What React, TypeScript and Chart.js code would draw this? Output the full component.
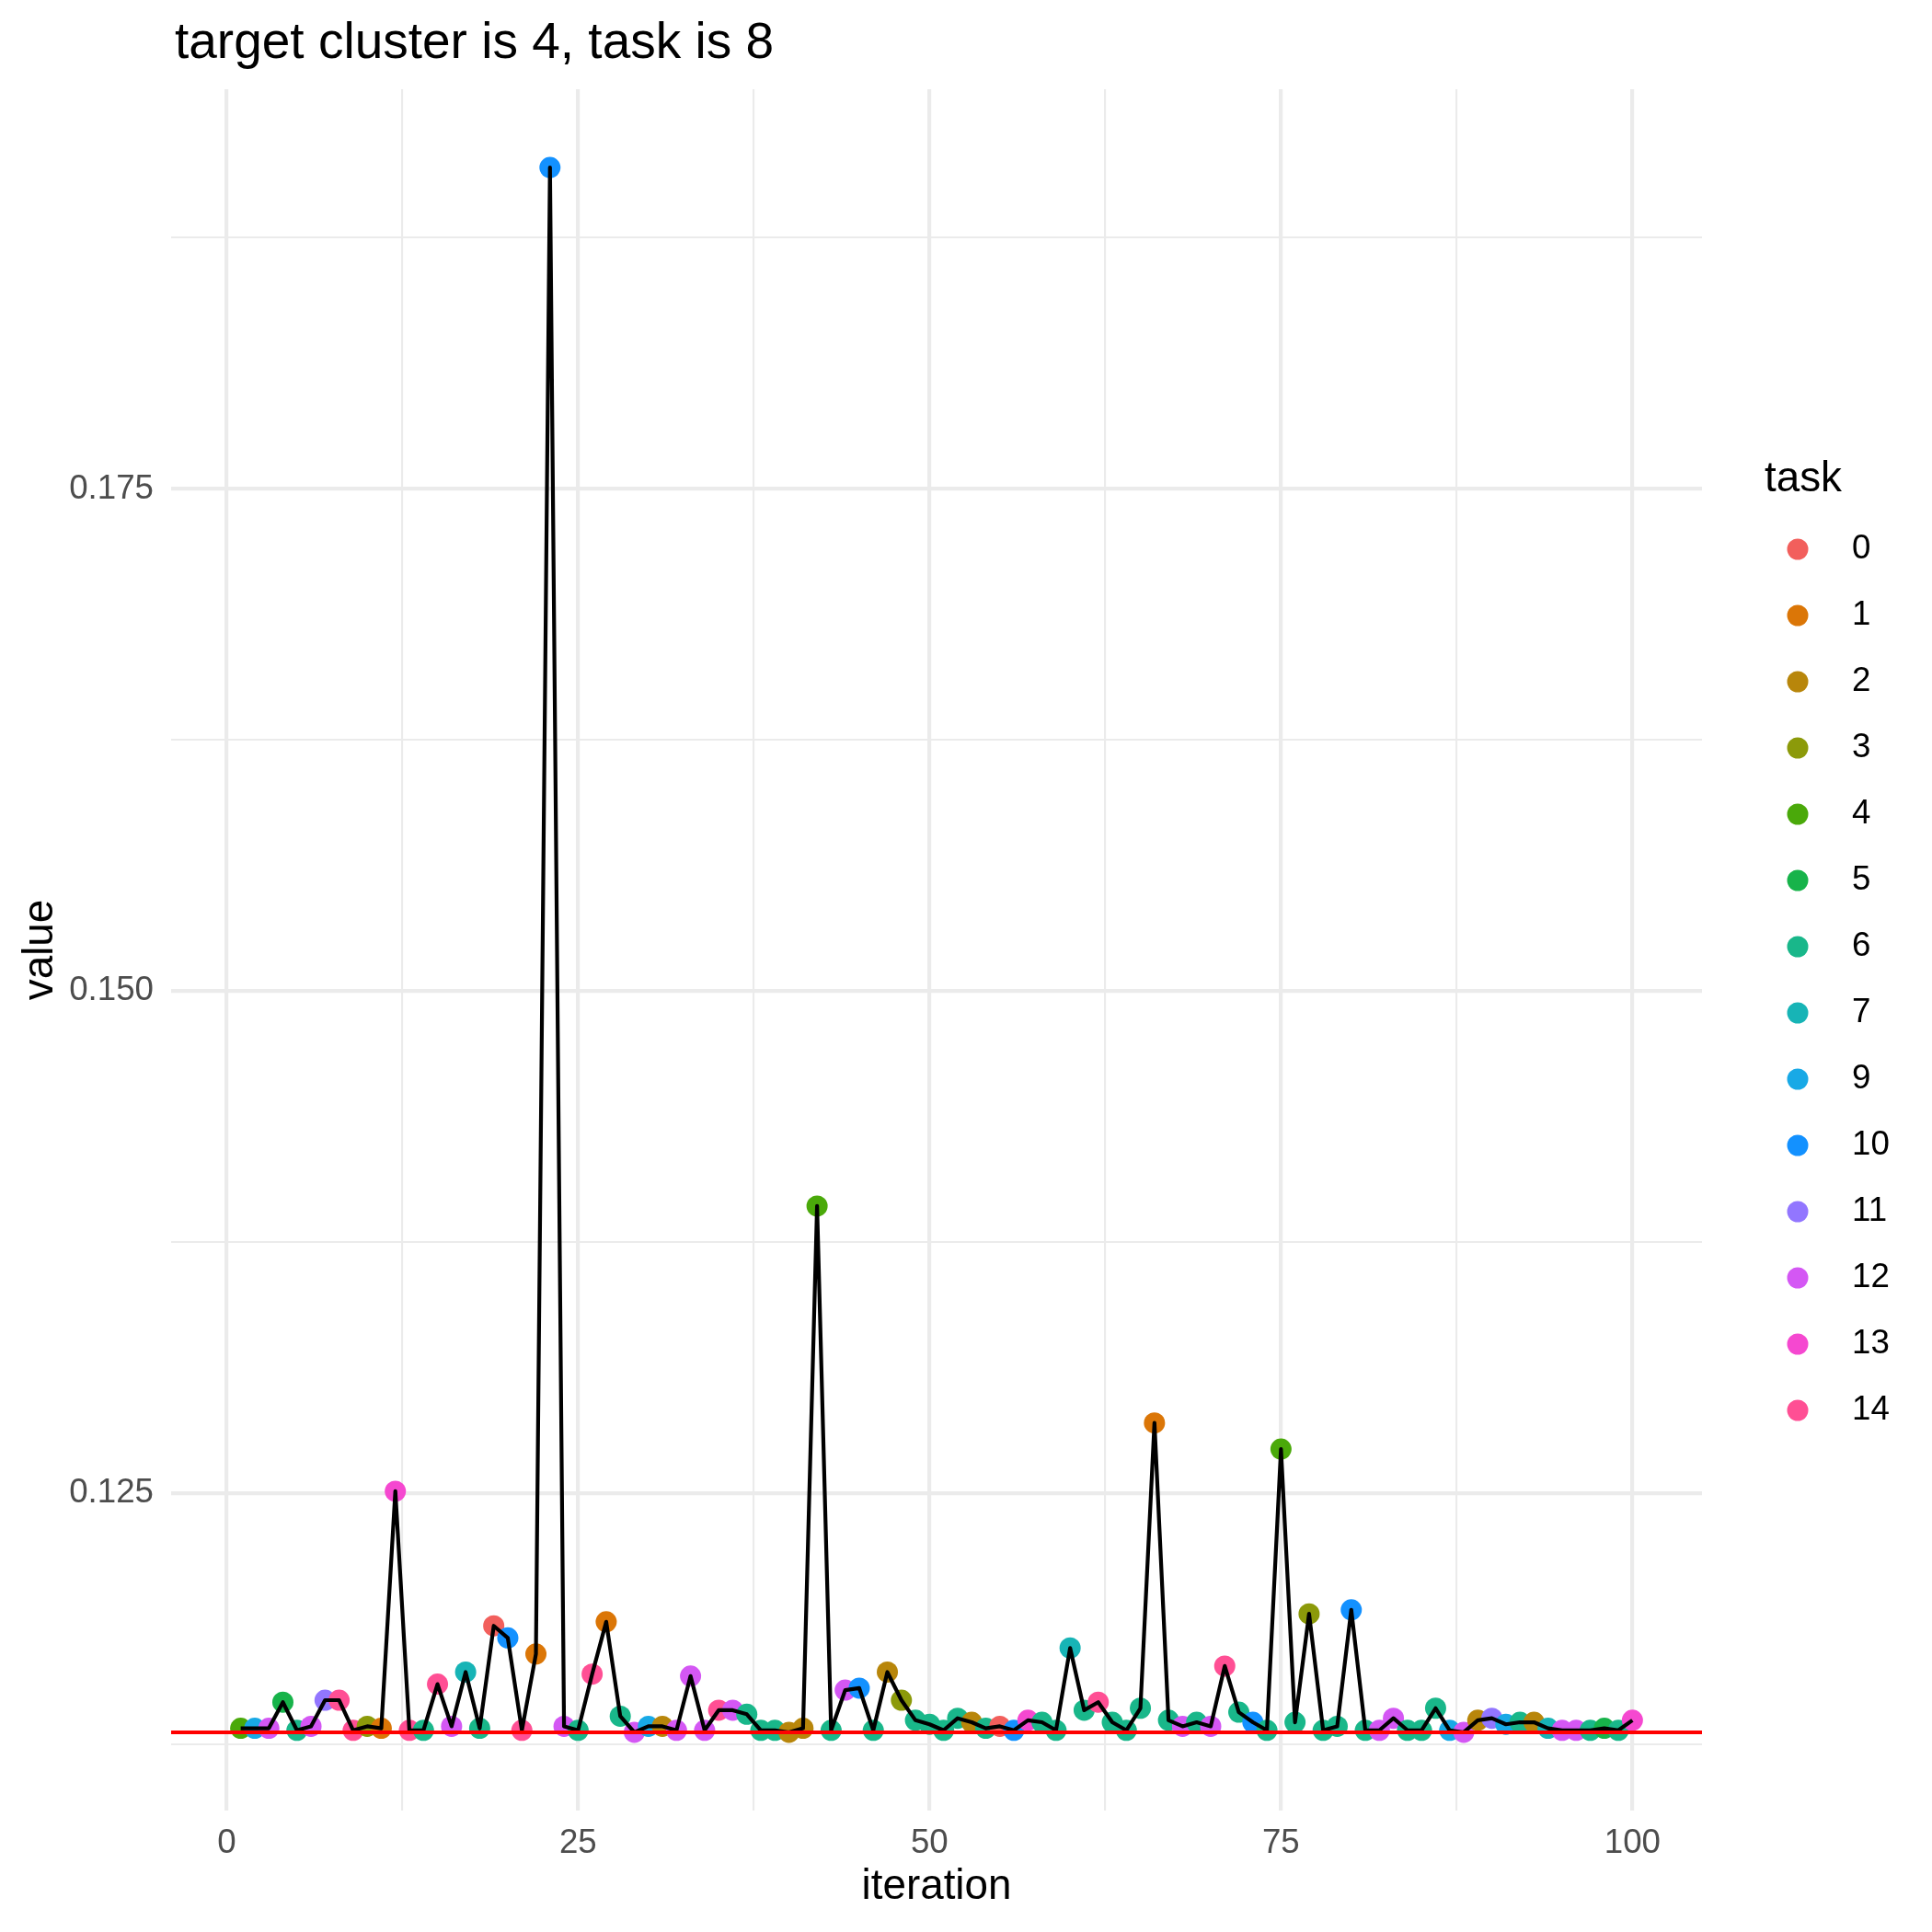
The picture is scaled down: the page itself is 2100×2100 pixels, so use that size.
import React, { useEffect, useRef } from 'react';
import { Chart, registerables } from 'chart.js';

Chart.register(...registerables);

const FONT = '"Liberation Sans", Arial, Helvetica, sans-serif';

const chartTitle = 'target cluster is 4, task is 8';
const xAxisTitle = 'iteration';
const yAxisTitle = 'value';
const legendTitle = 'task';

const iterations = [
  1, 2, 3, 4, 5, 6, 7, 8, 9, 10,
  11, 12, 13, 14, 15, 16, 17, 18, 19, 20,
  21, 22, 23, 24, 25, 26, 27, 28, 29, 30,
  31, 32, 33, 34, 35, 36, 37, 38, 39, 40,
  41, 42, 43, 44, 45, 46, 47, 48, 49, 50,
  51, 52, 53, 54, 55, 56, 57, 58, 59, 60,
  61, 62, 63, 64, 65, 66, 67, 68, 69, 70,
  71, 72, 73, 74, 75, 76, 77, 78, 79, 80,
  81, 82, 83, 84, 85, 86, 87, 88, 89, 90,
  91, 92, 93, 94, 95, 96, 97, 98, 99, 100,
];

const tasks = [
  4, 9, 12, 5, 6, 12, 11, 14, 14, 3,
  1, 13, 14, 6, 14, 12, 7, 6, 0, 10,
  14, 1, 10, 12, 6, 14, 1, 6, 12, 9,
  2, 12, 12, 12, 14, 12, 6, 6, 6, 2,
  2, 4, 6, 12, 10, 6, 2, 3, 6, 6,
  6, 6, 2, 6, 0, 10, 13, 6, 6, 7,
  6, 14, 6, 6, 6, 1, 6, 12, 6, 12,
  14, 6, 10, 6, 4, 6, 3, 6, 6, 10,
  6, 12, 12, 6, 6, 6, 9, 12, 2, 11,
  9, 6, 2, 7, 12, 12, 6, 5, 6, 13,
];

const values = [
  0.1133, 0.1133, 0.1133, 0.1146, 0.1132, 0.1134, 0.1147, 0.1147, 0.1132, 0.1134,
  0.1133, 0.1251, 0.1132, 0.1132, 0.1155, 0.1134, 0.1161, 0.1133, 0.1184, 0.1178,
  0.1132, 0.1170, 0.1910, 0.1134, 0.1132, 0.1160, 0.1186, 0.1139, 0.1131, 0.1134,
  0.1134, 0.1132, 0.1159, 0.1132, 0.1142, 0.1142, 0.1140, 0.1132, 0.1132, 0.1131,
  0.1133, 0.1393, 0.1132, 0.1152, 0.1153, 0.1132, 0.1161, 0.1147, 0.1137, 0.1135,
  0.1132, 0.1138, 0.1136, 0.1133, 0.1134, 0.1132, 0.1137, 0.1136, 0.1132, 0.1173,
  0.1142, 0.1146, 0.1136, 0.1132, 0.1143, 0.1285, 0.1137, 0.1134, 0.1136, 0.1134,
  0.1164, 0.1141, 0.1136, 0.1132, 0.1272, 0.1136, 0.1190, 0.1132, 0.1134, 0.1192,
  0.1132, 0.1132, 0.1138, 0.1132, 0.1132, 0.1143, 0.1132, 0.1131, 0.1137, 0.1138,
  0.1135, 0.1136, 0.1136, 0.1133, 0.1132, 0.1132, 0.1132, 0.1133, 0.1132, 0.1137,
];

const targetValue = 0.1131;

const legendTasks = [0, 1, 2, 3, 4, 5, 6, 7, 9, 10, 11, 12, 13, 14];
const legendColors = [
  '#F25F5C', '#DB7607', '#B8860B', '#8C9A0A', '#4AA90A', '#17B34A', '#19B78A',
  '#17B4B6', '#18A9E6', '#1391FF', '#9276FF', '#D457F4', '#F548D0', '#FF4F94',
];

const xTickValues = [0, 12.5, 25, 37.5, 50, 62.5, 75, 87.5, 100];
const xMajorTicks = [0, 25, 50, 75, 100];
const yTickValues = [0.1125, 0.125, 0.1375, 0.15, 0.1625, 0.175, 0.1875];
const yMajorTicks = [0.125, 0.15, 0.175];

const isMajor = (v: number, majors: number[]) => majors.some((m) => Math.abs(m - v) < 1e-9);

const overlayPlugin = {
  id: 'ggOverlay',
  afterDraw(chart: any) {
    const ctx = chart.ctx as CanvasRenderingContext2D;
    ctx.save();
    ctx.fillStyle = '#000000';
    ctx.textAlign = 'left';
    ctx.textBaseline = 'alphabetic';
    ctx.font = `55px ${FONT}`;
    ctx.fillText(chartTitle, 190, 63);
    ctx.font = `45.8px ${FONT}`;
    ctx.fillText(legendTitle, 1918, 534);
    legendTasks.forEach((t, i) => {
      const y = 597 + 72 * i;
      ctx.beginPath();
      ctx.arc(1954, y, 11.5, 0, Math.PI * 2);
      ctx.fillStyle = legendColors[i];
      ctx.fill();
      ctx.fillStyle = '#000000';
      ctx.font = `36.7px ${FONT}`;
      ctx.textBaseline = 'middle';
      ctx.fillText(String(t), 2013, y);
    });
    ctx.restore();
  },
};

export default function App() {
  const canvasRef = useRef<HTMLCanvasElement | null>(null);

  useEffect(() => {
    const canvas = canvasRef.current;
    if (!canvas) return;

    const colorOf = (t: number) => legendColors[legendTasks.indexOf(t)];
    const points = iterations.map((x, i) => ({ x, y: values[i] }));

    const allY = values.concat([targetValue]);
    const yLo = Math.min(...allY);
    const yHi = Math.max(...allY);
    const yPad = (yHi - yLo) * 0.05;
    const xLo = Math.min(...iterations);
    const xHi = Math.max(...iterations);
    const xPad = (xHi - xLo) * 0.05;
    const xMin = xLo - xPad;
    const xMax = xHi + xPad;

    const gridWidth = (majors: number[]) => (ctx: any) =>
      ctx.tick && isMajor(ctx.tick.value, majors) ? 4.2 : 2.1;

    const chart = new Chart(canvas, {
      type: 'scatter',
      data: {
        datasets: [
          {
            type: 'line',
            label: 'target',
            data: [
              { x: xMin, y: targetValue },
              { x: xMax, y: targetValue },
            ],
            borderColor: '#FF0000',
            borderWidth: 4,
            pointRadius: 0,
            fill: false,
            order: 1,
          } as any,
          {
            type: 'line',
            label: 'path',
            data: points,
            borderColor: '#000000',
            borderWidth: 4.2,
            borderJoinStyle: 'round',
            pointRadius: 0,
            tension: 0,
            fill: false,
            order: 2,
          } as any,
          {
            type: 'scatter',
            label: 'points',
            data: points,
            backgroundColor: tasks.map(colorOf),
            borderWidth: 0,
            pointRadius: 11.5,
            order: 3,
          } as any,
        ],
      },
      options: {
        responsive: false,
        animation: false,
        devicePixelRatio: 1,
        layout: { padding: { left: 0, top: 97, right: 250, bottom: 0 } },
        plugins: {
          legend: { display: false },
          title: { display: false },
          tooltip: { enabled: false },
        },
        scales: {
          x: {
            type: 'linear',
            min: xMin,
            max: xMax,
            bounds: 'data',
            afterBuildTicks: (scale: any) => {
              scale.ticks = xTickValues.map((v) => ({ value: v }));
            },
            afterFit: (scale: any) => {
              scale.height = 132;
            },
            grid: {
              color: '#EBEBEB',
              lineWidth: gridWidth(xMajorTicks),
              drawTicks: false,
            },
            border: { display: false },
            ticks: {
              autoSkip: false,
              maxRotation: 0,
              padding: 14,
              color: '#4D4D4D',
              font: { family: FONT, size: 36.7 },
              callback: (v: any) => (isMajor(Number(v), xMajorTicks) ? String(Number(v)) : ''),
            },
            title: {
              display: true,
              text: xAxisTitle,
              color: '#000000',
              font: { family: FONT, size: 45.8, lineHeight: 1 },
              padding: { top: 0, bottom: 26 },
            },
          },
          y: {
            type: 'linear',
            min: yLo - yPad,
            max: yHi + yPad,
            bounds: 'data',
            afterBuildTicks: (scale: any) => {
              scale.ticks = yTickValues.map((v) => ({ value: v }));
            },
            afterFit: (scale: any) => {
              scale.width = 186;
            },
            grid: {
              color: '#EBEBEB',
              lineWidth: gridWidth(yMajorTicks),
              drawTicks: false,
            },
            border: { display: false },
            ticks: {
              autoSkip: false,
              padding: 19,
              color: '#4D4D4D',
              font: { family: FONT, size: 36.7 },
              callback: (v: any) => (isMajor(Number(v), yMajorTicks) ? Number(v).toFixed(3) : ''),
            },
            title: {
              display: true,
              text: yAxisTitle,
              color: '#000000',
              font: { family: FONT, size: 45.8, lineHeight: 1 },
              padding: { top: 21, bottom: 0 },
            },
          },
        },
      } as any,
      plugins: [overlayPlugin],
    });

    return () => {
      chart.destroy();
    };
  }, []);

  return (
    <div style={{ position: 'absolute', left: 0, top: 0, width: 2100, height: 2100, background: '#FFFFFF' }}>
      <canvas
        ref={canvasRef}
        width={2100}
        height={2100}
        style={{ display: 'block', width: '2100px', height: '2100px' }}
      />
    </div>
  );
}
